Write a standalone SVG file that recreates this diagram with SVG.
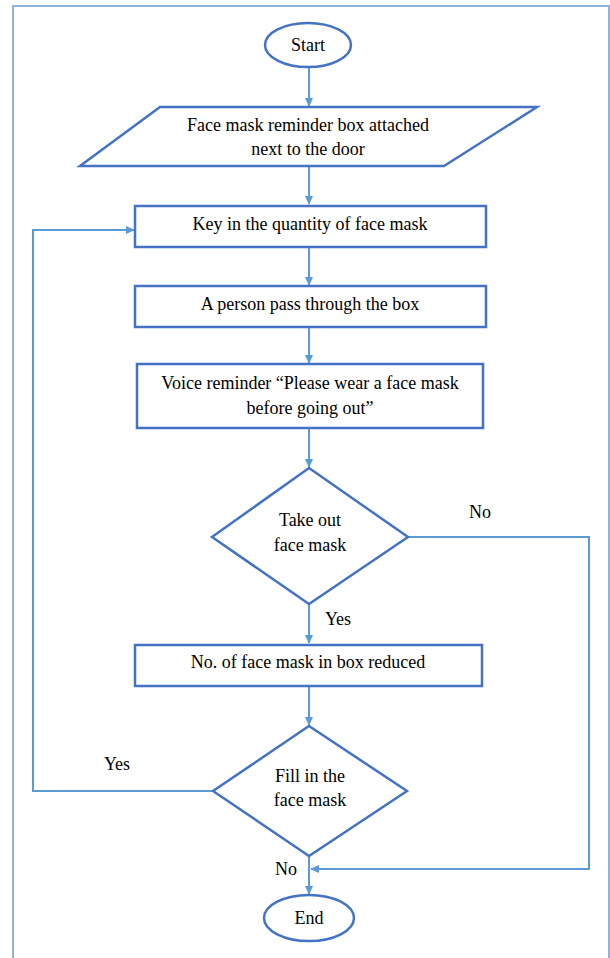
<svg xmlns="http://www.w3.org/2000/svg" width="610" height="958" viewBox="0 0 610 958">
<style>
.shape{fill:#fff;stroke:#4472c4;stroke-width:2.5}
.conn{fill:none;stroke:#5b9bd5;stroke-width:2}
text{font-family:"Liberation Serif","Times New Roman",serif;font-size:18px;fill:#000;text-anchor:middle;dominant-baseline:central}
</style>
<defs>
<marker id="ah" markerWidth="10" markerHeight="10" refX="8" refY="5" orient="auto" markerUnits="userSpaceOnUse">
<path d="M0,1 L9,5 L0,9 Z" fill="#5b9bd5"/>
</marker>
</defs>
<path d="M13,960 V6 H609 V960" fill="#fff" stroke="#8fb4e3" stroke-width="2"/>
<g id="connectors">
<line class="conn" x1="309" y1="67" x2="309" y2="106" marker-end="url(#ah)"/>
<line class="conn" x1="309" y1="166" x2="309" y2="204" marker-end="url(#ah)"/>
<line class="conn" x1="309" y1="247" x2="309" y2="285" marker-end="url(#ah)"/>
<line class="conn" x1="309" y1="327" x2="309" y2="363" marker-end="url(#ah)"/>
<line class="conn" x1="309" y1="428" x2="309" y2="467" marker-end="url(#ah)"/>
<line class="conn" x1="309" y1="604" x2="309" y2="643" marker-end="url(#ah)"/>
<line class="conn" x1="309" y1="687" x2="309" y2="725" marker-end="url(#ah)"/>
<line class="conn" x1="309" y1="856" x2="309" y2="894" marker-end="url(#ah)"/>
<polyline class="conn" points="408,537 589,537 589,869 311,869" marker-end="url(#ah)"/>
<polyline class="conn" points="213,791 33,791 33,230 134,230" marker-end="url(#ah)"/>
<text x="480" y="512">No</text>
<text x="338" y="619">Yes</text>
<text x="117" y="764">Yes</text>
<text x="286" y="869">No</text>
</g>
<g id="start">
<ellipse class="shape" cx="308" cy="45" rx="43" ry="22"/>
<text x="308" y="45">Start</text>
</g>
<g id="input">
<polygon class="shape" points="160,107 537,107 444,166 80,166"/>
<text x="308" y="125">Face mask reminder box attached</text>
<text x="308" y="149">next to the door</text>
</g>
<g id="key">
<rect class="shape" x="135" y="206" width="351" height="41"/>
<text x="310" y="224">Key in the quantity of face mask</text>
</g>
<g id="pass">
<rect class="shape" x="135" y="286" width="351" height="41"/>
<text x="310" y="304">A person pass through the box</text>
</g>
<g id="voice">
<rect class="shape" x="137" y="364" width="346" height="64"/>
<text x="310" y="383">Voice reminder “Please wear a face mask</text>
<text x="310" y="408">before going out”</text>
</g>
<g id="takeout">
<polygon class="shape" points="309,468 408,537 309,604 212,537"/>
<text x="310" y="520">Take out</text>
<text x="310" y="545">face mask</text>
</g>
<g id="reduced">
<rect class="shape" x="135" y="645" width="347" height="41"/>
<text x="308" y="662">No. of face mask in box reduced</text>
</g>
<g id="fill">
<polygon class="shape" points="309,726 407,791 309,856 213,791"/>
<text x="310" y="776">Fill in the</text>
<text x="310" y="800">face mask</text>
</g>
<g id="end">
<ellipse class="shape" cx="309" cy="918" rx="45" ry="23"/>
<text x="309" y="918">End</text>
</g>
</svg>
